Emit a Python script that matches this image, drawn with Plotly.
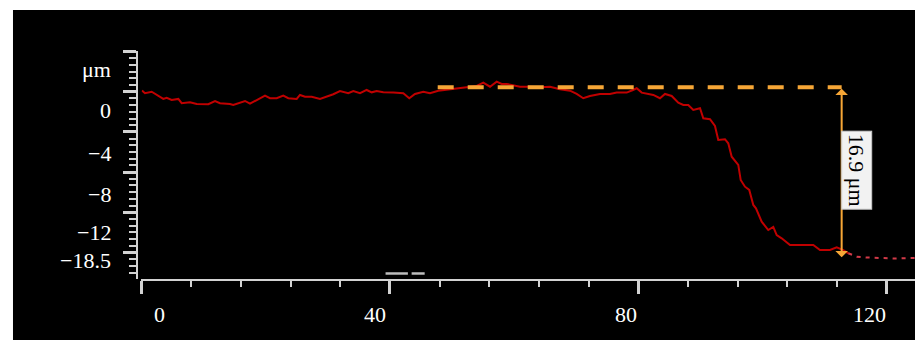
import plotly.graph_objects as go

# ---- data (µm profile) ----
profile_x = [0.08, 0.56, 1.64, 3.51, 4.06, 4.86, 5.93, 6.47, 7.81, 8.89, 10.76, 11.84, 12.64, 14.25, 14.78,
             16.67, 17.47, 18.55, 19.89, 20.69, 21.77, 22.83, 23.64, 24.99, 25.52, 26.33, 27.41, 28.74, 29.82,
             30.89, 31.96, 33.30, 34.11, 35.19, 36.26, 37.07, 37.87, 38.94, 40.55, 42.16, 43.12, 44.04, 45.38,
             46.46, 47.79, 49.68, 51.29, 52.62, 53.98, 55.04, 56.12, 57.20, 58.00, 58.81, 59.87, 60.95, 62.56,
             64.17, 65.78, 67.39, 69.00, 70.08, 71.14, 72.22, 73.83, 75.44, 76.52, 78.13, 79.15, 79.74, 80.55,
             81.35, 82.42, 83.49, 84.30, 85.38, 86.44, 87.25, 88.05, 88.86, 89.94, 90.47, 91.55, 92.35, 92.88,
             93.96, 94.49, 95.04, 96.10, 96.49, 97.18, 97.87, 98.52, 98.95, 99.32, 99.87, 100.93, 101.74,
             102.29, 103.09, 104.43, 106.04, 108.18, 109.26, 110.87, 111.95, 113.01, 113.82]
profile_y = [1.96, 1.69, 1.84, 1.13, 1.25, 1.03, 1.13, 0.71, 0.80, 0.64, 0.61, 0.93, 0.71, 0.64, 0.54,
             0.93, 0.67, 1.03, 1.45, 1.20, 1.20, 1.45, 1.20, 1.13, 1.52, 1.35, 1.35, 1.13, 1.35,
             1.59, 1.91, 1.69, 1.91, 1.69, 2.01, 1.78, 1.91, 1.78, 1.75, 1.69, 1.20, 1.62, 1.84,
             1.69, 1.94, 2.08, 2.18, 2.33, 2.40, 2.73, 2.33, 2.82, 2.60, 2.60, 2.50, 2.33, 2.33,
             2.27, 2.33, 2.08, 1.94, 1.62, 1.20, 1.42, 1.62, 1.62, 1.75, 1.75, 2.01, 2.18, 1.75,
             1.62, 1.52, 1.20, 1.62, 1.42, 0.76, 0.54, 0.54, 0.05, 0.22, -0.76, -0.86, -1.52, -2.89,
             -2.82, -3.22, -4.53, -5.34, -6.81, -7.47, -7.79, -9.26, -9.59, -10.08, -10.90, -11.72, -11.42,
             -12.21, -12.53, -13.19, -13.19, -13.19, -13.68, -13.68, -13.41, -13.68, -14.00]
tail_x = [113.82, 115.17, 116.78, 118.92, 121.34, 124.56]
tail_y = [-14.00, -14.33, -14.41, -14.46, -14.51, -14.46]

step_x = [47.70, 112.75]      # dashed reference level
step_top = 2.27
step_bottom = -14.39
step_label = "16.9 μm"
step_label_pos = (115.10, -5.83)

x_tick_labels = ["0", "40", "80", "120"]
x_label_pos = [2.87, 37.6, 78.1, 117.3]
y_tick_labels = ["μm", "0", "−4", "−8", "−12", "−18.5"]
y_label_pos = [3.97, 0.0, -4.17, -8.19, -11.99, -14.66]

AXIS = "#d2d2d2"
ORANGE = "#f6a636"
FONT = "Liberation Serif"

fig = go.Figure()
fig.add_trace(go.Scatter(x=profile_x, y=profile_y, mode="lines",
                         line=dict(color="#c00000", width=2), hoverinfo="skip"))
fig.add_trace(go.Scatter(x=tail_x, y=tail_y, mode="lines",
                         line=dict(color="#d23a48", width=2, dash="4px,5px"), hoverinfo="skip"))
fig.add_trace(go.Scatter(x=step_x, y=[step_top, step_top], mode="lines",
                         line=dict(color=ORANGE, width=4, dash="16px,14px"), hoverinfo="skip"))

annotations = []
# double arrow
annotations.append(dict(x=step_x[1], y=step_bottom, ax=step_x[1], ay=step_top,
                        xref="x", yref="y", axref="x", ayref="y", text="",
                        showarrow=True, arrowside="end+start", arrowhead=1,
                        startarrowhead=1, arrowsize=1.05, startarrowsize=1.05,
                        arrowwidth=2, arrowcolor=ORANGE))
annotations.append(dict(x=step_label_pos[0], y=step_label_pos[1], xref="x", yref="y",
                        text=step_label, showarrow=False, textangle=90,
                        font=dict(family=FONT, size=22, color="black"),
                        bgcolor="#f2f2f2", bordercolor="#c8c8c8", borderwidth=1, borderpad=2,
                        xanchor="center", yanchor="middle"))
for t, p in zip(x_tick_labels, x_label_pos):
    annotations.append(dict(x=p, y=0, xref="x", yref="paper", yshift=-35, text=t,
                            showarrow=False, xanchor="center", yanchor="middle",
                            font=dict(family=FONT, size=22, color="white")))
for t, p in zip(y_tick_labels, y_label_pos):
    annotations.append(dict(x=0, y=p, xref="paper", yref="y", xshift=-24, text=t,
                            showarrow=False, xanchor="right", yanchor="middle",
                            font=dict(family=FONT, size=22, color="white")))

shapes = [
    # white page margins around the dark image
    dict(type="rect", xref="paper", yref="paper", x0=-0.2, x1=1.01, y0=1.1798, y1=1.3,
         fillcolor="white", line=dict(width=0), layer="above"),
    dict(type="rect", xref="paper", yref="paper", x0=-0.2, x1=-0.1594, y0=-0.3, y1=1.3,
         fillcolor="white", line=dict(width=0), layer="above"),
    # small gray marks above the x axis
    dict(type="line", xref="x", yref="y", x0=39.3, x1=42.9, y0=-15.98, y1=-15.98,
         line=dict(color="#bdbdbd", width=2.5)),
    dict(type="line", xref="x", yref="y", x0=43.5, x1=45.6, y0=-15.98, y1=-15.98,
         line=dict(color="#bdbdbd", width=2.5)),
]

fig.update_layout(
    width=915, height=340, autosize=False,
    margin=dict(l=137, r=0, t=51, b=61, pad=0),
    paper_bgcolor="black", plot_bgcolor="black",
    showlegend=False,
    annotations=annotations, shapes=shapes,
    xaxis=dict(domain=[0.00578, 1], range=[0, 124.56], anchor="y",
               showline=True, linecolor=AXIS, linewidth=2,
               showgrid=False, zeroline=False, showticklabels=False,
               ticks="outside", tickmode="array", tickvals=[0, 40, 80, 120],
               ticklen=13, tickwidth=3, tickcolor=AXIS,
               minor=dict(ticks="outside", tickmode="linear", tick0=0, dtick=8,
                          ticklen=6, tickwidth=2, tickcolor=AXIS, showgrid=False)),
    yaxis=dict(domain=[0, 1], range=[-16.52, 5.83], anchor="free", position=0,
               showline=True, linecolor=AXIS, linewidth=2,
               showgrid=False, zeroline=False, showticklabels=False,
               ticks="outside", tickmode="linear", tick0=1.84, dtick=3.94,
               ticklen=13, tickwidth=3, tickcolor=AXIS,
               minor=dict(ticks="outside", tickmode="linear", tick0=1.84, dtick=0.6567,
                          ticklen=7, tickwidth=2, tickcolor=AXIS, showgrid=False)),
)

fig.write_html("out.html", config={"displayModeBar": False},
               post_script="document.body.style.margin='0';document.body.style.overflow='hidden';")
